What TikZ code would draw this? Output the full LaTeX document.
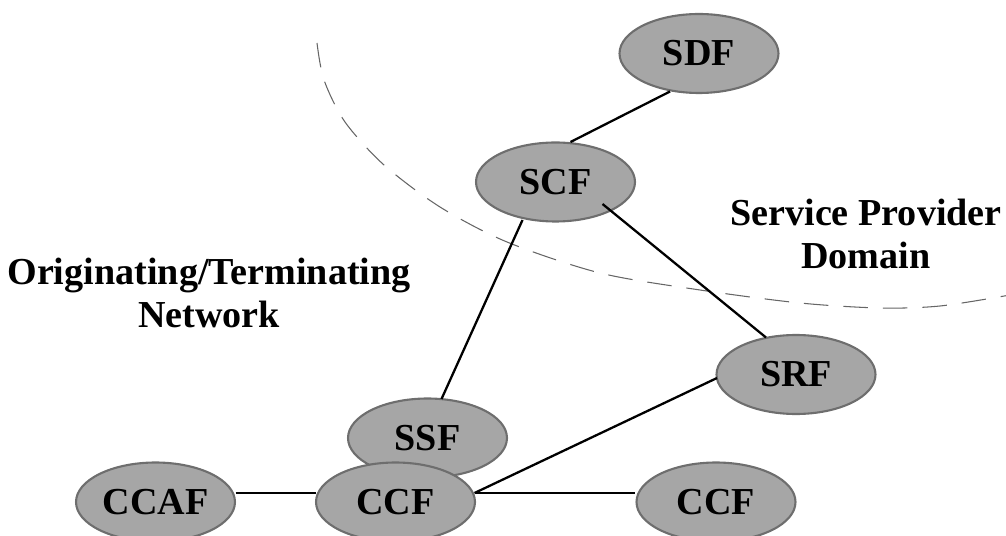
\documentclass[tikz,border=0pt]{standalone}
\usepackage{fontspec}
\setmainfont{Liberation Serif}
\usetikzlibrary{shapes.geometric,calc}
\definecolor{fnfill}{HTML}{A6A6A6}
\definecolor{fnedge}{HTML}{6E6E6E}
\tikzset{
  fn/.style={ellipse, draw=fnedge, fill=fnfill, line width=1.2pt,
    minimum width=3.18cm, minimum height=1.58cm, inner sep=0pt,
    font=\bfseries\fontsize{21.7}{24.4}\selectfont},
  domainlabel/.style={align=center, inner sep=0pt,
    font=\bfseries\fontsize{21.7}{24.4}\selectfont},
  link/.style={line width=1.3pt, black},
  boundary/.style={line width=0.6pt, black!60, dash pattern=on 14pt off 8.5pt}
}
\begin{document}
\begin{tikzpicture}[x=0.02cm, y=-0.02cm]
  \useasboundingbox (0,0) rectangle (1006,536);
  \clip (0,0) rectangle (1006,536);

  % boundary between the two domains
  \draw[boundary] plot[smooth] coordinates {
    (317,43) (324,80) (345,122) (384,165) (440,207) (507,242)
    (600,273) (700,290) (800,303) (880,308) (940,306) (1010,295)};

  % domain labels
  \node[domainlabel] (orig) at (209,293) {Originating/Terminating\\Network};
  \node[domainlabel] (spd) at (866,234) {Service Provider\\Domain};

  % functional entities
  \node[fn] (sdf)  at (699,53.5)  {SDF};
  \node[fn] (scf)  at (555.5,182) {SCF};
  \node[fn] (srf)  at (796,374.5) {SRF};
  \node[fn] (ssf)  at (427.5,438) {SSF};
  \node[fn] (ccf)  at (395.5,502) {CCF};
  \node[fn] (ccaf) at (155.5,502) {CCAF};
  \node[fn] (ccf2) at (716,502)   {CCF};

  % relationships
  \draw[link] ($(sdf)+(-29,38)$)  -- ($(scf)+(15,-40)$);
  \draw[link] ($(scf)+(-33,38)$)  -- ($(ssf)+(14,-39)$);
  \draw[link] ($(scf)+(47,22)$)   -- ($(srf)+(-30,-37)$);
  \draw[link] ($(ccf)+(79,-9)$)   -- ($(srf)+(-79,3.5)$);
  \draw[link] ($(ccaf)+(80,-9)$)  -- ($(ccf)+(-80,-9)$);
  \draw[link] ($(ccf)+(79,-9)$)   -- ($(ccf2)+(-81,-9)$);
\end{tikzpicture}
\end{document}
